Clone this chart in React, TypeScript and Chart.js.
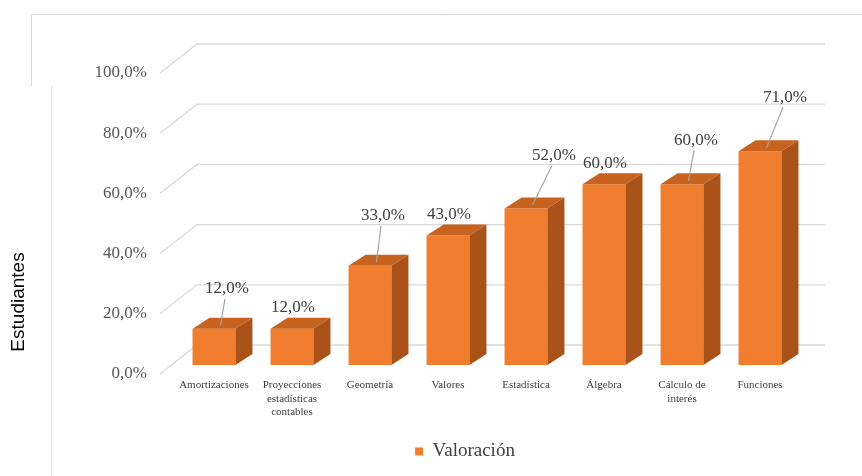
import React, { useEffect, useRef } from "react";
import { Chart, registerables } from "chart.js";

Chart.register(...registerables);

// ---- data ----
const categories: string[][] = [
  ["Amortizaciones"],
  ["Proyecciones", "estadísticas", "contables"],
  ["Geometría"],
  ["Valores"],
  ["Estadística"],
  ["Álgebra"],
  ["Cálculo de", "interés"],
  ["Funciones"],
];
const values: number[] = [12, 12, 33, 43, 52, 60, 60, 71];
const yTicks: number[] = [0, 20, 40, 60, 80, 100];
const seriesName = "Valoración";
const axisTitle = "Estudiantes";

// ---- style: data-label nudges (leader lines drawn when nudged) ----
const labelNudge: number[][] = [
  [12, -19], [0, 0], [12, -29], [0, 0], [27, -32], [0, 0], [13, -23], [24, -33],
];

const fmt = (v: number) => v.toFixed(1).replace(".", ",") + "%";

const SERIF = "'Liberation Serif', 'Times New Roman', serif";
const SANS = "'Liberation Sans', Arial, sans-serif";

export default function App() {
  const ref = useRef<HTMLCanvasElement>(null);

  useEffect(() => {
    document.body.style.margin = "0";
    const DX = 17;
    const DY = -11;
    const WALL_DX = 37;
    const WALL_DY = -29;

    const plugin3d = {
      id: "excel3d",
      afterLayout(chart: any) {
        const lg = chart.legend;
        if (lg) {
          lg.left += 71;
        }
      },
      beforeDraw(chart: any) {
        const ctx = chart.ctx;
        ctx.save();
        ctx.strokeStyle = "#d9d9d9";
        ctx.lineWidth = 1;
        ctx.beginPath();
        ctx.moveTo(31.5, 86);
        ctx.lineTo(31.5, 14.5);
        ctx.lineTo(862, 14.5);
        ctx.stroke();
        ctx.strokeStyle = "#e6e6e6";
        ctx.beginPath();
        ctx.moveTo(51.5, 86);
        ctx.lineTo(51.5, 476);
        ctx.stroke();
        // axis title
        ctx.translate(19, 302);
        ctx.rotate(-Math.PI / 2);
        ctx.fillStyle = "#000000";
        ctx.font = `19px ${SANS}`;
        ctx.textAlign = "center";
        ctx.textBaseline = "middle";
        ctx.fillText(axisTitle, 0, 0);
        ctx.restore();
      },
      beforeDatasetsDraw(chart: any) {
        const ctx = chart.ctx;
        const s = chart.scales.yl;
        const ca = chart.chartArea;
        ctx.save();
        ctx.strokeStyle = "#d9d9d9";
        ctx.lineWidth = 1.3;
        yTicks.forEach((v) => {
          const y = s.getPixelForValue(v);
          const x0 = ca.left - 15;
          ctx.beginPath();
          ctx.moveTo(x0, y);
          ctx.lineTo(x0 + WALL_DX, y + WALL_DY);
          ctx.lineTo(ca.right + 26, y + WALL_DY);
          ctx.stroke();
        });
        ctx.restore();
      },
      afterDatasetsDraw(chart: any) {
        const ctx = chart.ctx;
        const meta = chart.getDatasetMeta(0);
        ctx.save();
        meta.data.forEach((bar: any) => {
          const { x, y, base, width } = bar.getProps(["x", "y", "base", "width"], true);
          const L = x - width / 2;
          const R = x + width / 2;
          // top face
          ctx.fillStyle = "#c8621f";
          ctx.beginPath();
          ctx.moveTo(L, y);
          ctx.lineTo(L + DX, y + DY);
          ctx.lineTo(R + DX, y + DY);
          ctx.lineTo(R, y);
          ctx.closePath();
          ctx.fill();
          // side face
          ctx.fillStyle = "#a9531b";
          ctx.beginPath();
          ctx.moveTo(R, y);
          ctx.lineTo(R + DX, y + DY);
          ctx.lineTo(R + DX, base + DY);
          ctx.lineTo(R, base);
          ctx.closePath();
          ctx.fill();
        });
        // data labels
        ctx.font = `17px ${SERIF}`;
        ctx.textAlign = "center";
        ctx.textBaseline = "middle";
        meta.data.forEach((bar: any, i: number) => {
          const { x, y } = bar.getProps(["x", "y"], true);
          const [nx, ny] = labelNudge[i];
          const lx = x + 1 + nx;
          const ly = y - 21 + ny;
          if (nx !== 0 || ny !== 0) {
            ctx.strokeStyle = "#a6a6a6";
            ctx.lineWidth = 1.2;
            ctx.beginPath();
            ctx.moveTo(lx - 2, ly + 10);
            ctx.lineTo(x + DX / 2 - 2, y + DY / 2 + 2);
            ctx.stroke();
          }
          ctx.fillStyle = "#404040";
          ctx.fillText(fmt(values[i]), lx, ly);
        });
        ctx.restore();
      },
    };

    const chart = new Chart(ref.current as HTMLCanvasElement, {
      type: "bar",
      data: {
        labels: categories,
        datasets: [
          {
            label: seriesName,
            data: values,
            backgroundColor: "#f07e2e",
            borderWidth: 0,
            categoryPercentage: 1,
            barPercentage: 0.55,
            yAxisID: "y",
          },
        ],
      },
      options: {
        animation: false,
        responsive: false,
        maintainAspectRatio: false,
        layout: { padding: { left: 60, right: 63, top: 73, bottom: 5 } },
        plugins: {
          tooltip: { enabled: false },
          legend: {
            position: "bottom",
            labels: {
              boxWidth: 8,
              boxHeight: 8,
              padding: 10,
              color: "#404040",
              font: { family: SERIF, size: 19 },
            },
          },
        },
        scales: {
          x: {
            type: "category",
            grid: { display: false, drawTicks: false },
            border: { display: false },
            ticks: {
              color: "#404040",
              font: { family: SERIF, size: 11 },
              padding: 5,
              maxRotation: 0,
              autoSkip: false,
            },
            afterFit: (s: any) => {
              s.height = 58;
              s.paddingLeft = 0;
              s.paddingRight = 0;
            },
          },
          y: {
            display: false,
            min: -3,
            max: 97,
          },
          yl: {
            position: "left",
            min: 0,
            max: 100,
            grid: { display: false, drawTicks: false },
            border: { display: false },
            afterBuildTicks: (s: any) => {
              s.ticks = yTicks.map((v) => ({ value: v }));
            },
            afterFit: (s: any) => {
              s.width = 115;
              s.paddingTop = 0;
              s.paddingBottom = 0;
            },
            ticks: {
              padding: 28,
              color: "#595959",
              font: { family: SERIF, size: 17 },
              callback: (v: any) => fmt(Number(v)),
            },
          },
        },
      },
      plugins: [plugin3d],
    } as any);

    return () => chart.destroy();
  }, []);

  return (
    <div style={{ position: "absolute", left: 0, top: 0, width: 862, height: 476, background: "#ffffff" }}>
      <canvas ref={ref} width={862} height={476} style={{ display: "block" }} />
    </div>
  );
}
